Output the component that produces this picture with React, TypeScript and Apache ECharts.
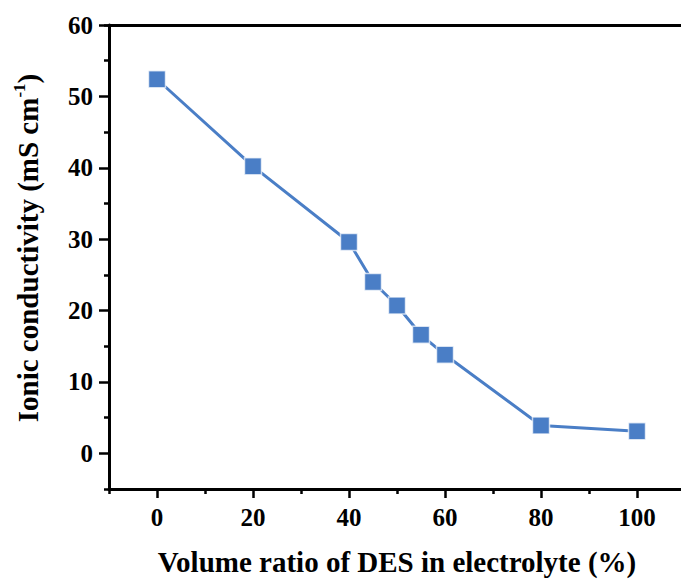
import React, { useEffect, useRef } from "react";
import * as echarts from "echarts";

const desRatio = [0, 20, 40, 45, 50, 55, 60, 80, 100];
const conductivity = [52.4, 40.2, 29.6, 24.0, 20.7, 16.6, 13.8, 3.9, 3.1];
const xMajorTicks = [0, 20, 40, 60, 80, 100];
const yMajorTicks = [0, 10, 20, 30, 40, 50, 60];
const xTitle = "Volume ratio of DES in electrolyte (%)";
const yTitleMain = "Ionic conductivity (mS cm";
const yTitleSup = "-1";

const FONT = "Liberation Serif";

export default function App() {
  const ref = useRef<HTMLDivElement>(null);
  useEffect(() => {
    if (!ref.current) return;
    const chart = echarts.init(ref.current, null, { renderer: "svg" });
    const axisLine = { show: true, onZero: false, lineStyle: { color: "#000", width: 3 } };
    const labelStyle = {
      color: "#000",
      fontFamily: FONT,
      fontWeight: "bold",
      fontSize: 25,
    };
    chart.setOption({
      animation: false,
      backgroundColor: "#fff",
      grid: [
        { left: 109, top: 25, right: -4, bottom: 90, outerBoundsMode: "none" },
        { left: 109, top: 25, right: -4, bottom: 90, outerBoundsMode: "none" },
      ],
      xAxis: [
        {
          type: "value",
          gridIndex: 0,
          position: "bottom",
          min: -10,
          max: 110,
          axisLine,
          splitLine: { show: false },
          axisTick: {
            show: true,
            inside: false,
            length: 9,
            customValues: xMajorTicks,
            lineStyle: { color: "#000", width: 2.5 },
          },
          axisLabel: {
            customValues: xMajorTicks,
            margin: 16,
            ...labelStyle,
          },
          name: xTitle,
          nameLocation: "middle",
          nameGap: 58,
          nameTextStyle: {
            color: "#000",
            fontFamily: FONT,
            fontWeight: "bold",
            fontSize: 29,
          },
        },
        {
          type: "value",
          gridIndex: 1,
          position: "bottom",
          min: -10,
          max: 110,
          interval: 20,
          axisLine: { show: false, onZero: false },
          splitLine: { show: false },
          axisTick: { show: true, length: 5, lineStyle: { color: "#000", width: 2.5 } },
          axisLabel: { show: false },
        },
        {
          type: "value",
          gridIndex: 1,
          position: "top",
          min: -10,
          max: 110,
          axisLine,
          splitLine: { show: false },
          axisTick: { show: false },
          axisLabel: { show: false },
        },
      ],
      yAxis: [
        {
          type: "value",
          gridIndex: 0,
          position: "left",
          min: -5,
          max: 60,
          axisLine,
          splitLine: { show: false },
          axisTick: {
            show: true,
            length: 10,
            customValues: yMajorTicks,
            lineStyle: { color: "#000", width: 2.5 },
          },
          axisLabel: {
            customValues: yMajorTicks,
            margin: 16,
            ...labelStyle,
          },
        },
        {
          type: "value",
          gridIndex: 1,
          position: "left",
          min: -5,
          max: 60,
          interval: 10,
          axisLine: { show: false, onZero: false },
          splitLine: { show: false },
          axisTick: { show: true, length: 5, lineStyle: { color: "#000", width: 2.5 } },
          axisLabel: { show: false },
        },
      ],
      graphic: [
        {
          type: "text",
          x: 28,
          y: 248,
          rotation: Math.PI / 2,
          style: {
            text: `{a|${yTitleMain}}{s|${yTitleSup}}{a|)}`,
            align: "center",
            verticalAlign: "middle",
            fill: "#000",
            rich: {
              a: { fontFamily: FONT, fontWeight: "bold", fontSize: 29, fill: "#000", lineHeight: 34 },
              s: { fontFamily: FONT, fontWeight: "bold", fontSize: 17, fill: "#000", verticalAlign: "top", lineHeight: 34 },
            },
          },
        },
      ],
      series: [
        {
          type: "line",
          xAxisIndex: 0,
          yAxisIndex: 0,
          data: desRatio.map((x, i) => [x, conductivity[i]]),
          symbol: "rect",
          symbolSize: 17,
          lineStyle: { color: "#4A7EC6", width: 3 },
          itemStyle: { color: "#4A7EC6", borderColor: "rgba(255,255,255,0.7)", borderWidth: 1.5 },
          clip: false,
        },
      ],
    });
    return () => chart.dispose();
  }, []);
  return <div ref={ref} style={{ width: 681, height: 579, position: "absolute", left: 0, top: 0 }} />;
}
